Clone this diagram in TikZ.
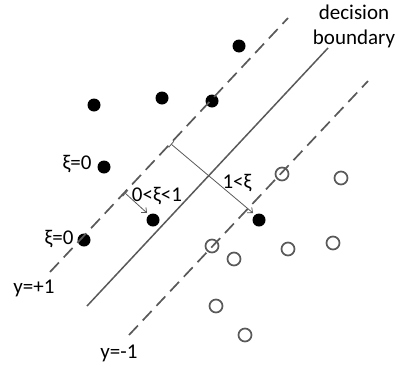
\documentclass[tikz,border=0pt]{standalone}
\usepackage{fontspec}
\setmainfont{Carlito}
\usetikzlibrary{arrows.meta}
\definecolor{lg}{HTML}{595959}
\begin{document}
\begin{tikzpicture}[x=1pt,y=-1pt,
  posdot/.style={circle,fill=black,draw=none,minimum size=13pt,inner sep=0pt},
  negdot/.style={circle,draw=lg,line width=1.7pt,fill=white,minimum size=13pt,inner sep=0pt},
  lbl/.style={font=\fontsize{21}{25}\selectfont,inner sep=0pt,text=black},
  marginline/.style={draw=lg,line width=1.7pt,dash pattern=on 13pt off 7pt},
  boundaryline/.style={draw=lg,line width=1.5pt},
  slackarrow/.style={draw=lg,line width=0.8pt,{Bar[width=8pt]}-{Straight Barb[length=4pt,width=7pt]}}]
\useasboundingbox (0,0) rectangle (395,367);
% positive points
\node[posdot] (p1) at (94,105) {};
\node[posdot] (p2) at (162,98) {};
\node[posdot] (p3) at (104,167) {};
\node[posdot] (p4) at (239,46) {};
\node[posdot] (p5) at (212,101) {};
\node[posdot] (p6) at (84,240) {};
\node[posdot] (p7) at (153,220) {};
\node[posdot] (p8) at (259,220) {};
% negative points
\node[negdot] (n1) at (282,174) {};
\node[negdot] (n2) at (341,178) {};
\node[negdot] (n3) at (212,246) {};
\node[negdot] (n4) at (234,259) {};
\node[negdot] (n5) at (288,249) {};
\node[negdot] (n6) at (333,243) {};
\node[negdot] (n7) at (216,306) {};
\node[negdot] (n8) at (245,335) {};
% lines
\coordinate (u1) at (50,272);
\coordinate (u2) at (288,18);
\coordinate (s1) at (87,306);
\coordinate (s2) at (328,48);
\coordinate (l1) at (129,335);
\coordinate (l2) at (368,81);
\draw[marginline] (u1) -- (u2);
\draw[boundaryline] (s1) -- (s2);
\draw[marginline] (l1) -- (l2);
% slack arrows
\coordinate (a1) at (171,144);
\coordinate (a1e) at (253,213);
\coordinate (a2) at (125,193);
\coordinate (a2e) at (147,213);
\draw[slackarrow] (a1) -- (a1e);
\draw[slackarrow] (a2) -- (a2e);
% labels
\node[lbl,align=center] (db) at (354,26) {decision\\boundary};
\node[lbl] (x0a) at (77,164) {ξ=0};
\node[lbl] (x0b) at (59,239) {ξ=0};
\node[lbl] (x01) at (157,196) {0<ξ<1};
\node[lbl] (x1) at (237,183) {1<ξ};
\node[lbl] (yp) at (34,288) {y=+1};
\node[lbl] (ym) at (119,353) {y=-1};
\end{tikzpicture}
\end{document}
